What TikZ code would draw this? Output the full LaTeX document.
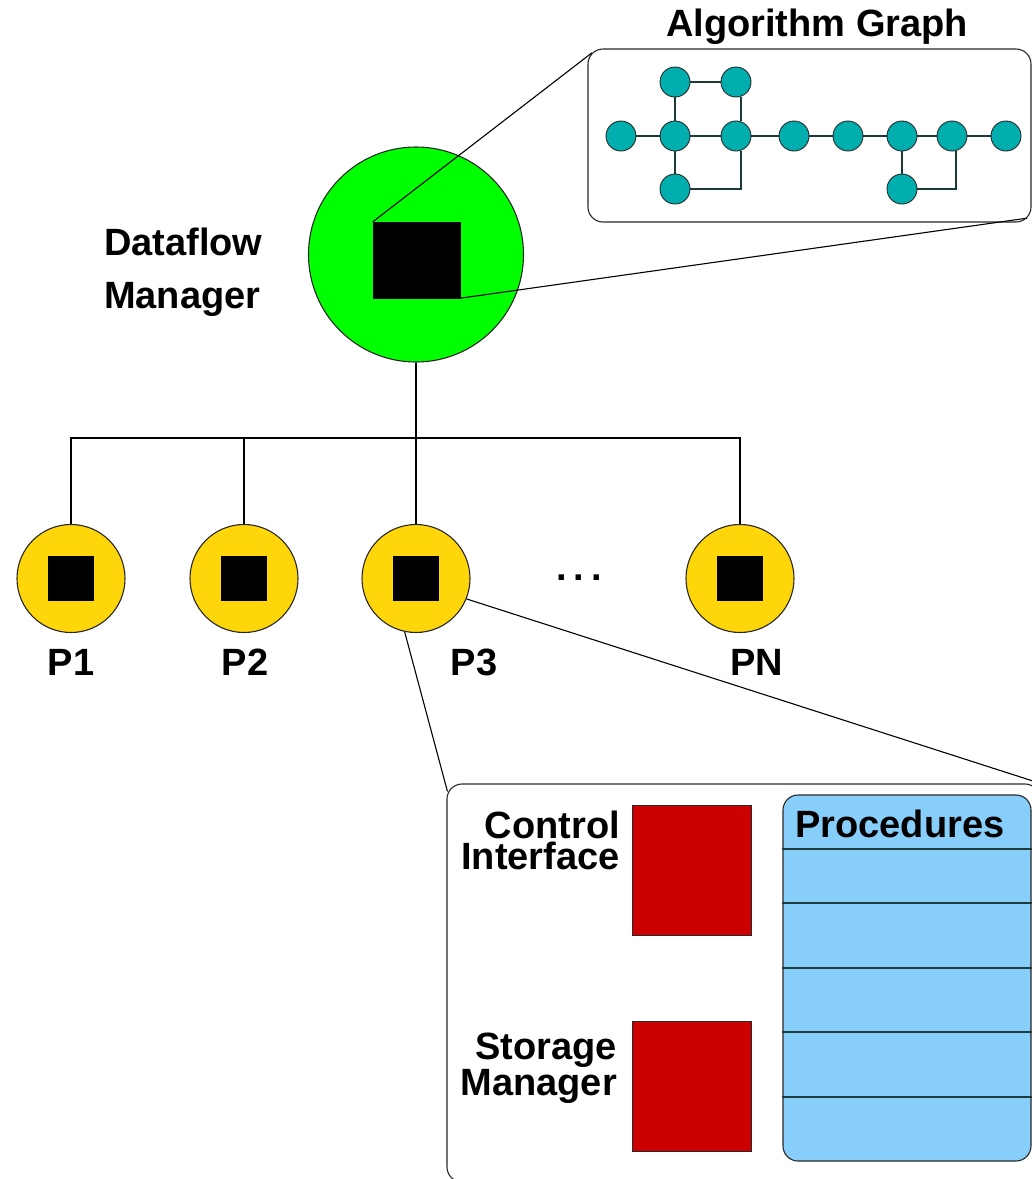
\documentclass[tikz,border=0pt]{standalone}
\usepackage{fontspec}
\setmainfont{Liberation Sans}
\usetikzlibrary{calc}
\definecolor{mgrgreen}{RGB}{0,255,0}
\definecolor{procgold}{RGB}{255,214,10}
\definecolor{vertteal}{RGB}{0,174,174}
\definecolor{edgeslate}{RGB}{28,58,58}
\definecolor{unitred}{RGB}{204,0,0}
\definecolor{procblue}{RGB}{135,206,250}
\definecolor{frame}{RGB}{40,40,40}
\begin{document}
\begin{tikzpicture}[x=1pt,y=-1pt,
  lbl/.style={font=\fontsize{38}{53}\selectfont\bfseries, inner sep=0pt},
  tightlbl/.style={font=\fontsize{38}{31}\selectfont\bfseries, inner sep=0pt, align=right},
  wire/.style={draw=black, line width=1.1pt},
  panel/.style={draw=frame, line width=1.1pt, rounded corners=15pt, fill=white, inner sep=0pt},
  core/.style={fill=black, draw=black, inner sep=0pt},
  proc/.style={circle, fill=procgold, draw=frame, line width=1.1pt, minimum size=108pt, inner sep=0pt},
  vert/.style={circle, fill=vertteal, draw=frame, line width=0.9pt, minimum size=30pt, inner sep=0pt},
  gedge/.style={draw=edgeslate, line width=1.4pt},
  unit/.style={fill=unitred, draw=frame, line width=1pt, minimum width=119pt, minimum height=130pt, inner sep=0pt}
]
\path[use as bounding box] (0,0) rectangle (1032,1179);
\clip (0,0) rectangle (1032,1179);

% ---- Dataflow manager ----
\node[circle, fill=mgrgreen, draw=frame, line width=1.1pt, minimum size=215pt, inner sep=0pt] (dm) at (416,254.5) {};
\node[core, minimum width=87pt, minimum height=76pt] (dmcore) at (416.5,260) {};
\node[lbl, anchor=base west] (dmlbl1) at (104,255) {Dataflow};
\node[lbl, anchor=base west] (dmlbl2) at (104,308) {Manager};

% ---- Algorithm graph panel ----
\node[panel, minimum width=443pt, minimum height=173pt] (algbox) at (809.5,135.5) {};
\node[lbl, anchor=base] (algtitle) at (817,36) {Algorithm Graph};

\node[vert] (a1) at (675,82) {};
\node[vert] (a2) at (736,82) {};
\node[vert] (b1) at (621,136) {};
\node[vert] (b2) at (675,136) {};
\node[vert] (b3) at (736,136) {};
\node[vert] (b4) at (794,136) {};
\node[vert] (b5) at (848,136) {};
\node[vert] (b6) at (902,136) {};
\node[vert] (b7) at (952,136) {};
\node[vert] (b8) at (1006,136) {};
\node[vert] (c1) at (675,189) {};
\node[vert] (c2) at (902,189) {};

\draw[gedge] (a1) -- (a2);
\draw[gedge] (a1) -- (b2);
\draw[gedge] ([xshift=5pt]a2.south) -- ([xshift=5pt]b3.north);
\draw[gedge] (b1) -- (b2);
\draw[gedge] (b2) -- (b3);
\draw[gedge] (b3) -- (b4);
\draw[gedge] (b4) -- (b5);
\draw[gedge] (b5) -- (b6);
\draw[gedge] (b6) -- (b7);
\draw[gedge] (b7) -- (b8);
\draw[gedge] (b2) -- (c1);
\draw[gedge] ([xshift=5pt]b3.south) |- (c1.east);
\draw[gedge] (b6) -- (c2);
\draw[gedge] ([xshift=4pt]b7.south) |- (c2.east);

% zoom lines from the manager core to the graph panel
\draw[wire] (dmcore.north west) -- ([shift={(4.4,4.4)}]algbox.north west);
\draw[wire] (dmcore.south east) -- ([shift={(-4.4,-4.4)}]algbox.south east);

% ---- Processors ----
\node[proc] (p1) at (71,578.5) {};
\node[proc] (p2) at (244,578.5) {};
\node[proc] (p3) at (416,578.5) {};
\node[proc] (pn) at (740,578.5) {};
\foreach \p in {p1,p2,p3,pn}{
  \node[core, minimum width=45pt, minimum height=44pt] (\p core) at (\p) {};
}
\node[lbl, anchor=base] (p1lbl) at (71,675) {P1};
\node[lbl, anchor=base] (p2lbl) at (245,675) {P2};
\node[lbl, anchor=base] (p3lbl) at (474,675) {P3};
\node[lbl, anchor=base] (pnlbl) at (757,675) {PN};
\node[lbl, anchor=base] (dots) at (579,580) {.\hspace{7pt}.\hspace{7pt}.};

% bus from the manager to the processors
\coordinate (bus) at (416,438);
\draw[wire] (dm.south) -- (bus);
\draw[wire] (p1.north) -- (p1.north |- bus) -- (pn.north |- bus) -- (pn.north);
\draw[wire] (p2.north) -- (p2.north |- bus);
\draw[wire] (p3.north) -- (p3.north |- bus);

% ---- Processor detail panel ----
\node[panel, minimum width=593pt, minimum height=398pt] (pbox) at (743.5,983) {};
\draw[wire] (p3.258) -- ([shift={(1,8)}]pbox.north west);
\draw[wire] (p3.-22) -- (pbox.north east);

\node[unit] (ctrl) at (691.5,870) {};
\node[unit] (store) at (691.5,1086) {};
\node[tightlbl, anchor=base east] (ctrllbl) at (620,869) {Control\\Interface};
\node[tightlbl, anchor=base east] (storelbl) at (617,1095) {Storage\\Manager};

\node[panel, fill=procblue, minimum width=248pt, minimum height=366pt] (procs) at (907,978) {};
\foreach \yy in {849,903,968,1032,1097}{
  \draw[draw=edgeslate, line width=1.1pt] (procs.west |- 0,\yy) -- (procs.east |- 0,\yy);
}
\node[lbl, anchor=base west] (proclbl) at (795,837) {Procedures};
\end{tikzpicture}
\end{document}
